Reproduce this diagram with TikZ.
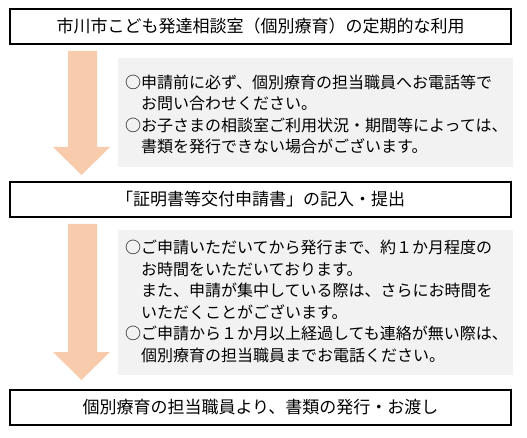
\documentclass[tikz,border=0pt]{standalone}
\usepackage{fontspec}
\setmainfont{Noto Sans CJK JP}
\definecolor{arrowpeach}{HTML}{F8CBAD}
\definecolor{notegray}{HTML}{F2F2F2}
\begin{document}
\begin{tikzpicture}[x=1pt,y=-1pt,
  stepbox/.style={draw=black,line width=2pt,minimum width=501pt,minimum height=35pt,inner sep=0pt,font=\fontsize{17}{20}\selectfont},
  notebox/.style={fill=notegray,inner sep=0pt,anchor=north west},
  notetext/.style={anchor=west,inner sep=0pt,align=left,font=\fontsize{16}{21.6}\selectfont},
  blockarrow/.style={fill=arrowpeach}]
\useasboundingbox (0,0) rectangle (527,438);
% steps
\node[stepbox] (s1) at (260.5,26.5) {市川市こども発達相談室（個別療育）の定期的な利用};
\node[stepbox] (s2) at (260.5,199.5) {「証明書等交付申請書」の記入・提出};
\node[stepbox] (s3) at (260.5,407.5) {個別療育の担当職員より、書類の発行・お渡し};
% arrows
\fill[blockarrow] (68,51) -- (97,51) -- (97,147) -- (110,147) -- (81.5,175) -- (53,147) -- (68,147) -- cycle;
\fill[blockarrow] (68,224) -- (97,224) -- (97,352) -- (110,352) -- (81.5,380) -- (53,352) -- (68,352) -- cycle;
% notes
\node[notebox,minimum width=395pt,minimum height=109pt] (g1) at (118,58) {};
\node[notetext] (t1) at (125,114.5) {○申請前に必ず、個別療育の担当職員へお電話等で\\　お問い合わせください。\\○お子さまの相談室ご利用状況・期間等によっては、\\　書類を発行できない場合がございます。};
\node[notebox,minimum width=395pt,minimum height=145pt] (g2) at (118,230) {};
\node[notetext] (t2) at (125,301.5) {○ご申請いただいてから発行まで、約１か月程度の\\　お時間をいただいております。\\　また、申請が集中している際は、さらにお時間を\\　いただくことがございます。\\○ご申請から１か月以上経過しても連絡が無い際は、\\　個別療育の担当職員までお電話ください。};
\end{tikzpicture}
\end{document}
